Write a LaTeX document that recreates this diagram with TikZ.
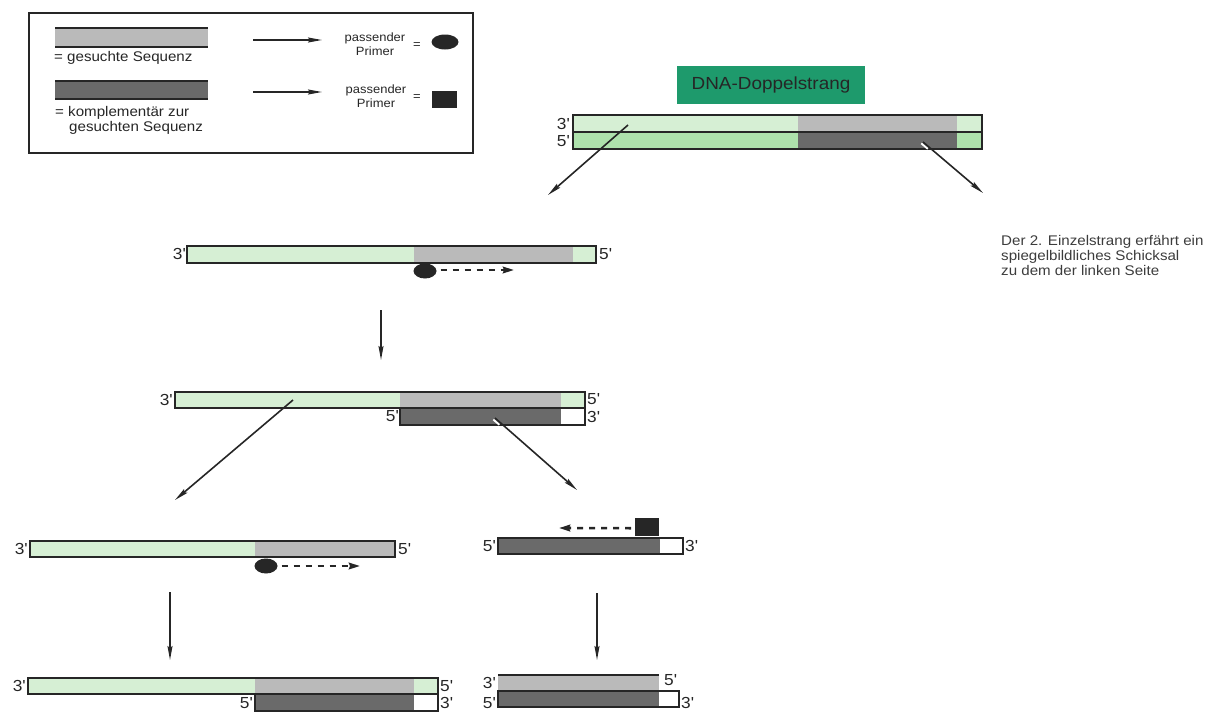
\documentclass[tikz,border=0pt]{standalone}
\usepackage{fontspec}
\setmainfont{Liberation Sans}[Ligatures=TeXOff,FakeStretch=1.08]
\usetikzlibrary{arrows.meta,calc,shapes.geometric}
\definecolor{palegreen}{HTML}{D6EFD4}
\definecolor{midgreen}{HTML}{AEE2AC}
\definecolor{lightgrey}{HTML}{BABABA}
\definecolor{darkgrey}{HTML}{6A6A6A}
\definecolor{titlegreen}{HTML}{1E9A6C}
\definecolor{ink}{HTML}{262626}

\begin{document}
\begin{tikzpicture}[x=1pt,y=-1pt,
  outline/.style={draw=ink,line width=1.1pt},
  flow/.style={draw=ink,line width=1.6pt,-{Stealth[length=14pt,width=5pt,inset=2pt]}},
  extend/.style={draw=ink,line width=2.6pt,dash pattern=on 6pt off 6pt,
    -{Stealth[length=11pt,width=6.5pt,inset=1pt]}},
  endlbl/.style={font=\fontsize{16}{16}\selectfont,inner sep=0pt,text=ink},
  legtext/.style={font=\fontsize{14}{14}\selectfont,inner sep=0pt,text=ink,anchor=west},
  primtext/.style={font=\fontsize{12}{13.5}\selectfont,inner sep=0pt,text=ink,align=center},
  oval/.style={ellipse,fill=ink,inner sep=0pt},
]
\useasboundingbox (0,0) rectangle (1229,712);

% ---------- legend ----------
\node[draw=ink,line width=1.8pt,minimum width=444pt,minimum height=140pt,anchor=north west,inner sep=0pt] (legend) at (28,12) {};
\fill[lightgrey] (55,28) rectangle (208,47);
\draw[ink,line width=1.1pt] (55,28) -- (208,28) (55,47) -- (208,47);
\node[legtext] (leg1) at (54,58) {= gesuchte Sequenz};
\fill[darkgrey] (55,81) rectangle (208,99);
\draw[ink,line width=1.1pt] (55,81) -- (208,81) (55,99) -- (208,99);
\node[legtext] (leg2a) at (55,113) {=\ komplementär zur};
\node[legtext] (leg2b) at (69,128) {gesuchten Sequenz};

\coordinate (la1) at (253,40); \coordinate (lb1) at (322,40);
\coordinate (la2) at (253,92); \coordinate (lb2) at (322,92);
\draw[flow] (la1) -- (lb1);
\draw[flow] (la2) -- (lb2);
\node[primtext] (p1) at (375,44) {passender\\Primer};
\node[primtext] (p2) at (376,96) {passender\\Primer};
\node[primtext] (eq1) at (417,46) {=};
\node[primtext] (eq2) at (417,98) {=};
\fill[ink] (445,42) ellipse [x radius=13.5, y radius=7.5];
\fill[ink] (432,91) rectangle (457,108);

% ---------- double strand ----------
\node[fill=titlegreen,minimum width=188pt,minimum height=38pt,inner sep=0pt,
  font=\fontsize{17.5}{17.5}\selectfont,text=ink] (title) at (771,85) {DNA-Doppelstrang};

\fill[palegreen] (573,115) rectangle (798,132);
\fill[lightgrey] (798,115) rectangle (957,132);
\fill[palegreen] (957,115) rectangle (982,132);
\fill[midgreen] (573,132) rectangle (798,149);
\fill[darkgrey] (798,132) rectangle (957,149);
\fill[midgreen] (957,132) rectangle (982,149);
\draw[outline] (573,115) rectangle (982,149);
\draw[outline] (573,132) -- (982,132);
\node[endlbl,anchor=east] (d3) at (570,124) {3'};
\node[endlbl,anchor=east] (d5) at (570,141) {5'};

\coordinate (dsA) at (628,125); \coordinate (dsAend) at (548,195);
\coordinate (dsB) at (923,142); \coordinate (dsBend) at (983,193);
\draw[flow] (dsA) -- (dsAend);
\draw[white,line width=1.8pt] ($(dsB)+(-1.7,1.4)$) -- +(6.5,5.5);
\draw[flow] (dsB) -- (dsBend);

\node[anchor=north west,align=left,inner sep=0pt,text=ink!90,
  font=\fontsize{14}{15}\selectfont] (note) at (1001,235)
  {Der 2. Einzelstrang erfährt ein\\spiegelbildliches Schicksal\\zu dem der linken Seite};

% ---------- single strand with primer ----------
\fill[palegreen] (187,246) rectangle (414,263);
\fill[lightgrey] (414,246) rectangle (573,263);
\fill[palegreen] (573,246) rectangle (596,263);
\draw[outline] (187,246) rectangle (596,263);
\node[endlbl,anchor=east] (s3) at (186,254) {3'};
\node[endlbl,anchor=west] (s5) at (599,254) {5'};
\node[oval,minimum width=23pt,minimum height=15pt] (prA) at (425,271) {};
\coordinate (prAend) at (514,270);
\draw[extend] (prA.east) ++(4,-1) -- (prAend);

\coordinate (dn1) at (381,310); \coordinate (dn1end) at (381,360);
\draw[flow] (dn1) -- (dn1end);

% ---------- extended strand ----------
\fill[palegreen] (175,392) rectangle (400,408);
\fill[lightgrey] (400,392) rectangle (561,408);
\fill[palegreen] (561,392) rectangle (585,408);
\fill[darkgrey] (400,408) rectangle (561,425);
\fill[white] (561,408) rectangle (585,425);
\draw[outline] (175,392) rectangle (585,408);
\draw[outline] (400,408) rectangle (585,425);
\node[endlbl,anchor=east] (e3) at (173,400) {3'};
\node[endlbl,anchor=west] (e5) at (587,399) {5'};
\node[endlbl,anchor=west] (e3b) at (587,417) {3'};
\node[endlbl,anchor=east] (e5b) at (399,416) {5'};

\coordinate (eA) at (293,400); \coordinate (eAend) at (175,500);
\coordinate (eB) at (495,418); \coordinate (eBend) at (577,490);
\draw[flow] (eA) -- (eAend);
\draw[white,line width=1.8pt] ($(eB)+(-1.7,1.5)$) -- +(6,5.3);
\draw[flow] (eB) -- (eBend);

% ---------- left branch ----------
\fill[palegreen] (30,541) rectangle (255,557);
\fill[lightgrey] (255,541) rectangle (395,557);
\draw[outline] (30,541) rectangle (395,557);
\node[endlbl,anchor=east] (l3) at (28,549) {3'};
\node[endlbl,anchor=west] (l5) at (398,549) {5'};
\node[oval,minimum width=23pt,minimum height=15pt] (prB) at (266,566) {};
\coordinate (prBend) at (360,566);
\draw[extend] (prB.east) ++(4,0) -- (prBend);

\coordinate (dn2) at (170,592); \coordinate (dn2end) at (170,660);
\draw[flow] (dn2) -- (dn2end);

\fill[palegreen] (28,678) rectangle (255,694);
\fill[lightgrey] (255,678) rectangle (414,694);
\fill[palegreen] (414,678) rectangle (438,694);
\fill[darkgrey] (255,694) rectangle (414,711);
\fill[white] (414,694) rectangle (438,711);
\draw[outline] (28,678) rectangle (438,694);
\draw[outline] (255,694) rectangle (438,711);
\node[endlbl,anchor=east] (f3) at (26,686) {3'};
\node[endlbl,anchor=west] (f5) at (440,686) {5'};
\node[endlbl,anchor=west] (f3b) at (440,703) {3'};
\node[endlbl,anchor=east] (f5b) at (253,703) {5'};

% ---------- right branch ----------
\fill[darkgrey] (498,538) rectangle (660,554);
\fill[white] (660,538) rectangle (683,554);
\draw[outline] (498,538) rectangle (683,554);
\node[endlbl,anchor=east] (r5) at (496,546) {5'};
\node[endlbl,anchor=west] (r3) at (685,546) {3'};
\node[fill=ink,minimum width=24pt,minimum height=18pt,inner sep=0pt,anchor=north west] (prC) at (635,518) {};
\coordinate (prCend) at (559,528);
\draw[extend] (prC.west) ++(-4,1) -- (prCend);

\coordinate (dn3) at (597,593); \coordinate (dn3end) at (597,660);
\draw[flow] (dn3) -- (dn3end);

\fill[lightgrey] (498,675) rectangle (659,691);
\draw[outline] (498,675) -- (659,675);
\fill[darkgrey] (498,691) rectangle (659,707);
\fill[white] (659,691) rectangle (679,707);
\draw[outline] (498,691) rectangle (679,707);
\node[endlbl,anchor=east] (g3) at (496,683) {3'};
\node[endlbl,anchor=west] (g5) at (664,680) {5'};
\node[endlbl,anchor=east] (g5b) at (496,703) {5'};
\node[endlbl,anchor=west] (g3b) at (681,703) {3'};
\end{tikzpicture}
\end{document}
